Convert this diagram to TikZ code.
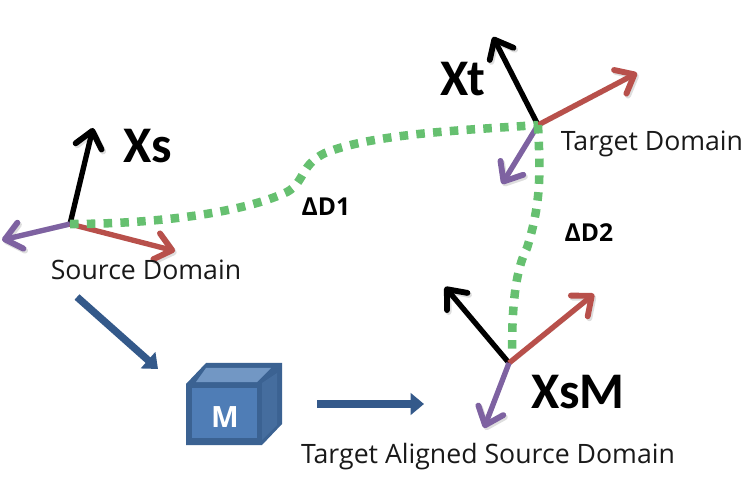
\documentclass[tikz,border=0pt]{standalone}
\usepackage{fontspec}
\setmainfont{Open Sans}
\newfontfamily\cali{Carlito}
\usetikzlibrary{arrows.meta}
\definecolor{axblack}{HTML}{000000}
\definecolor{axred}{HTML}{B8504B}
\definecolor{axpurple}{HTML}{7E62A1}
\definecolor{pathgreen}{HTML}{66C070}
\definecolor{flowblue}{HTML}{34598A}
\definecolor{cubeface}{HTML}{4F7DB6}
\definecolor{cubeedge}{HTML}{3B6292}
\definecolor{cubetop}{HTML}{7297C4}
\definecolor{cubeside}{HTML}{456D9E}
\tikzset{
  x=0.75pt,y=-0.75pt,
  axis/.style={line width=4pt,-{Straight Barb[length=12pt,width=20pt,line width=4.4pt,round]},
    preaction={draw,black,opacity=.13,transform canvas={shift={(1.2pt,-1.5pt)}}}},
  drift/.style={pathgreen,line width=6.4pt,dash pattern=on 6.4pt off 6.2pt},
  flow/.style={flowblue,line width=5.5pt,-{Triangle[length=10pt,width=16pt]}},
  lab/.style={font=\fontsize{20}{24}\selectfont,inner sep=0pt,text=black!90},
  big/.style={font=\cali\bfseries\fontsize{38.5}{44}\selectfont,inner sep=0pt,text=black},
  delta/.style={font=\bfseries\fontsize{18.5}{22}\selectfont,inner sep=0pt,text=black},
  pt/.style={inner sep=0pt,minimum size=0pt}
}
\begin{document}
\begin{tikzpicture}
\useasboundingbox (0,0) rectangle (752,498);
% origins
\coordinate (os) at (70,224);
\coordinate (ot) at (538,125);
\coordinate (om) at (509,363);
\coordinate (mtop) at (512,356);
% axis tips
\coordinate (sb) at (93,128);
\coordinate (sr) at (175,251);
\coordinate (sp) at (2,240);
\coordinate (tb) at (493,37);
\coordinate (tr) at (637,73);
\coordinate (tp) at (502,184);
\coordinate (mb) at (445,287);
\coordinate (mr) at (594,294);
\coordinate (mp) at (484,428);
% axes
\draw[axis,axblack] (os) -- (sb);
\draw[axis,axpurple] (os) -- (sp);
\draw[axis,axred] (os) -- (sr);
\draw[axis,axblack] (ot) -- (tb);
\draw[axis,axred] (ot) -- (tr);
\draw[axis,axpurple] (ot) -- (tp);
\draw[axis,axblack] (om) -- (mb);
\draw[axis,axred] (om) -- (mr);
\draw[axis,axpurple] (om) -- (mp);
% green paths
\draw[drift] (os) .. controls (150,224) and (240,214) .. (287,192)
  .. controls (305,182) and (300,165) .. (325,153)
  .. controls (375,133) and (470,130) .. (ot);
\draw[drift] (ot) .. controls (540,170) and (542,200) .. (527,248)
  .. controls (513,275) and (512,320) .. (mtop);
% cube
\node[pt] (cube) at (224,414) {};
\fill[cubeedge] (186,384) -- (206,363) -- (282,363) -- (282,424) -- (262,445) -- (186,445) -- cycle;
\fill[cubetop] (196,382) -- (206,368) -- (271,368) -- (257,382) -- cycle;
\fill[cubeside] (262,383) -- (277,373) -- (277,425) -- (262,440) -- cycle;
\fill[cubeface] (192,388) rectangle (257,438);
\node[font=\bfseries\fontsize{22}{24}\selectfont,text=white,inner sep=0pt] (mlabel) at (225,417) {M};
% flow arrows
\coordinate (fa) at (77,297);
\coordinate (fb) at (158,369);
\coordinate (fc) at (317,404);
\coordinate (fd) at (424,404);
\draw[flow] (fa) -- (fb);
\draw[flow] (fc) -- (fd);
% labels
\node[big,anchor=center] (xs) at (148,146) {Xs};
\node[big,anchor=center] (xt) at (463,79) {Xt};
\node[big,anchor=center] (xsm) at (578,392) {XsM};
\node[lab,anchor=center] (sd) at (146,270) {Source Domain};
\node[lab,anchor=center] (td) at (652,144) {Target Domain};
\node[lab,anchor=center] (ta) at (488,457) {Target Aligned Source Domain};
\node[delta,anchor=center] (d1) at (326,207) {ΔD1};
\node[delta,anchor=center] (d2) at (589,233) {ΔD2};
\end{tikzpicture}
\end{document}
